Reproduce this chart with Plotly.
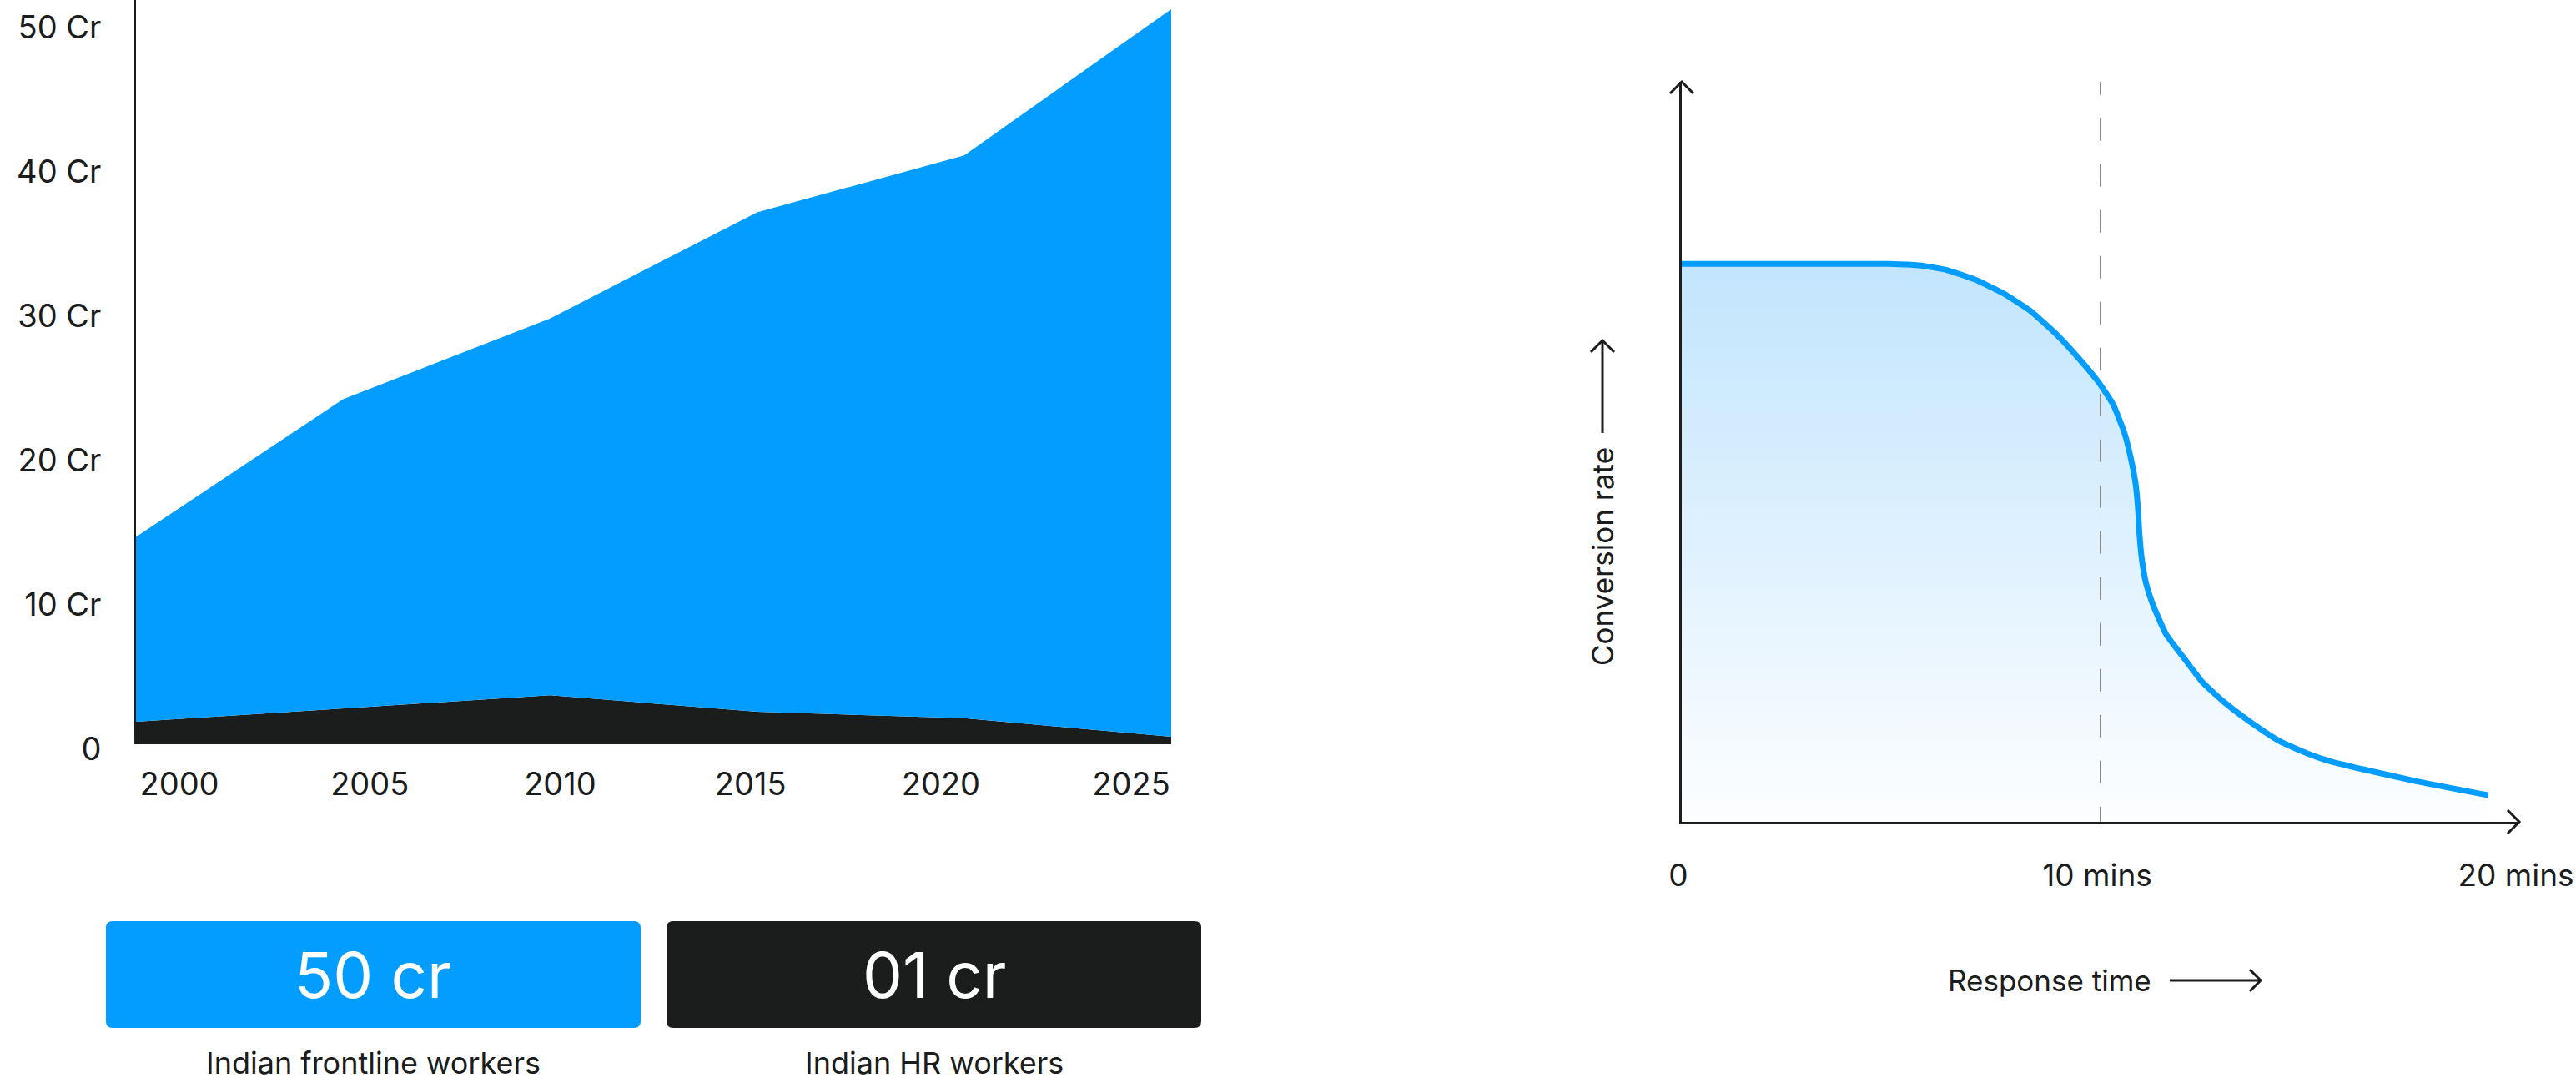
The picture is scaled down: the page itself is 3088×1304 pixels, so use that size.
import plotly.graph_objects as go

W, H = 3088, 1304
BLUE = "#039CFF"
BLACK = "#1B1C1C"
FONT = "Inter"

# ---------------- Left chart data ----------------
years = [2000, 2005, 2010, 2015, 2020, 2025]
frontline_cr = [12.8, 21.4, 26.1, 34.6, 39.0, 50.4]
hr_cr = [1.56, 2.5, 3.4, 2.25, 1.8, 0.52]
y_tick_vals = [0, 10, 20, 30, 40, 50]
y_tick_text = ["0", "10 Cr", "20 Cr", "30 Cr", "40 Cr", "50 Cr"]

summary_values = ["50 cr", "01 cr"]
summary_labels = ["Indian frontline workers", "Indian HR workers"]
summary_colors = [BLUE, BLACK]

# ---------------- Right chart data ----------------
response_min = [0, 4.92, 5.66, 6.31, 6.99, 7.65, 8.31, 8.98, 9.50, 9.94, 10.30, 10.58,
                10.74, 10.84, 10.90, 10.92, 10.98, 11.08, 11.24, 11.57, 11.97, 12.43,
                12.97, 13.63, 14.28, 14.96, 15.48, 16.27, 17.61, 19.26]
conversion = [75.4, 75.4, 75.2, 74.6, 73.3, 71.5, 69.1, 65.7, 62.5, 59.5, 56.4, 52.4,
              48.7, 45.6, 41.9, 39.7, 35.8, 32.4, 29.5, 25.3, 22.3, 18.9,
              16.1, 13.3, 10.9, 9.2, 8.2, 7.1, 5.4, 3.6]
x2_tick_vals = [0, 10, 20]
x2_tick_text = ["0", "10 mins", "20 mins"]
threshold_min = 10


def px(x):
    return x / W


def py(y):
    return 1 - y / H


fig = go.Figure()

# stacked areas (left)
fig.add_trace(go.Scatter(
    x=years, y=hr_cr, stackgroup="workers", mode="lines",
    line=dict(width=0, color=BLACK), fillcolor=BLACK,
    name="Indian HR workers", xaxis="x", yaxis="y", hoverinfo="skip"))
fig.add_trace(go.Scatter(
    x=years, y=frontline_cr, stackgroup="workers", mode="lines",
    line=dict(width=0, color=BLUE), fillcolor=BLUE,
    name="Indian frontline workers", xaxis="x", yaxis="y", hoverinfo="skip"))
# carrier for the evenly spaced year labels
fig.add_trace(go.Scatter(
    x=list(range(len(years))), y=[None] * len(years), xaxis="x3", yaxis="y",
    mode="markers", showlegend=False, hoverinfo="skip"))

# response curve (right)
fig.add_trace(go.Scatter(
    x=response_min, y=conversion, xaxis="x2", yaxis="y2", mode="lines",
    line=dict(color=BLUE, width=7, shape="spline", smoothing=0.5),
    fill="tozeroy",
    fillgradient=dict(type="vertical", start=0, stop=max(conversion),
                      colorscale=[[0, "#fdfeff"], [0.55, "#dcf0fe"], [1, "#c2e5fd"]]),
    hoverinfo="skip"))

axis_font = dict(family=FONT, size=38, color=BLACK)

layout = dict(
    width=W, height=H, margin=dict(l=0, r=0, t=0, b=0, autoexpand=False),
    paper_bgcolor="white", plot_bgcolor="rgba(0,0,0,0)", showlegend=False,
    xaxis=dict(domain=[px(163), px(1404)], range=[years[0], years[-1]], anchor="y",
               automargin=False, showline=False, showgrid=False, zeroline=False,
               showticklabels=False, ticks=""),
    yaxis=dict(domain=[py(892), 1], range=[0, 892 / 17.3], anchor="x", automargin=False,
               showline=True, linecolor=BLACK, linewidth=2, showgrid=False, zeroline=False,
               tickvals=y_tick_vals, ticktext=y_tick_text, ticks="", tickfont=axis_font,
               ticklabelstandoff=32, ticklabelshift=6, ticklabeloverflow="allow"),
    xaxis3=dict(overlaying="x", anchor="y", side="bottom", range=[-0.228, 5.21],
                automargin=False, tickvals=list(range(len(years))),
                ticktext=[str(v) for v in years],
                showline=False, showgrid=False, zeroline=False, ticks="",
                tickfont=axis_font, ticklabelstandoff=22, ticklabeloverflow="allow"),
    xaxis2=dict(domain=[px(2016), px(3020)], range=[0, 20], anchor="y2", automargin=False,
                showline=True, linecolor=BLACK, linewidth=3, showgrid=False, zeroline=False,
                tickvals=x2_tick_vals, ticktext=x2_tick_text, ticks="",
                tickfont=dict(family=FONT, size=37, color=BLACK),
                ticklabelstandoff=30, ticklabelshift=-4, ticklabeloverflow="allow"),
    yaxis2=dict(domain=[py(985), py(98)], range=[0, 100], anchor="x2", automargin=False,
                showline=True, linecolor=BLACK, linewidth=3, showgrid=False, zeroline=False,
                showticklabels=False, ticks=""),
)
fig.update_layout(**layout)

shapes = []
annotations = []


def path(points):
    return "M " + " L ".join(f"{px(x):.6f},{py(y):.6f}" for x, y in points)


def rounded_rect(x0, y0, x1, y1, r):
    p = [
        f"M {px(x0 + r):.6f},{py(y0):.6f}",
        f"L {px(x1 - r):.6f},{py(y0):.6f}",
        f"Q {px(x1):.6f},{py(y0):.6f} {px(x1):.6f},{py(y0 + r):.6f}",
        f"L {px(x1):.6f},{py(y1 - r):.6f}",
        f"Q {px(x1):.6f},{py(y1):.6f} {px(x1 - r):.6f},{py(y1):.6f}",
        f"L {px(x0 + r):.6f},{py(y1):.6f}",
        f"Q {px(x0):.6f},{py(y1):.6f} {px(x0):.6f},{py(y1 - r):.6f}",
        f"L {px(x0):.6f},{py(y0 + r):.6f}",
        f"Q {px(x0):.6f},{py(y0):.6f} {px(x0 + r):.6f},{py(y0):.6f}",
        "Z",
    ]
    return " ".join(p)


arrow_line = dict(color=BLACK, width=3)

# axis arrow heads (right chart)
shapes.append(dict(type="path", xref="paper", yref="paper",
                   path=path([(2002, 112), (2016, 98), (2030, 112)]), line=arrow_line))
shapes.append(dict(type="path", xref="paper", yref="paper",
                   path=path([(3006, 971), (3020, 985), (3006, 999)]), line=arrow_line))

# dashed threshold line at 10 mins
shapes.append(dict(type="line", xref="x2", yref="y2", x0=threshold_min, x1=threshold_min,
                   y0=101.27, y1=0, layer="above",
                   line=dict(color="#8a8a8a", width=2, dash="27px,28px")))

# "Conversion rate ->" (vertical)
annotations.append(dict(text="Conversion rate", xref="paper", yref="paper",
                        x=px(1921), y=py(667), textangle=-90, showarrow=False,
                        xanchor="center", yanchor="middle",
                        font=dict(family=FONT, size=35, color=BLACK)))
shapes.append(dict(type="line", xref="paper", yref="paper",
                   x0=px(1921), x1=px(1921), y0=py(519), y1=py(409), line=arrow_line))
shapes.append(dict(type="path", xref="paper", yref="paper",
                   path=path([(1907, 422), (1921, 408), (1935, 422)]), line=arrow_line))

# "Response time ->"
annotations.append(dict(text="Response time", xref="paper", yref="paper",
                        x=px(2457), y=py(1175), showarrow=False,
                        xanchor="center", yanchor="middle",
                        font=dict(family=FONT, size=35, color=BLACK)))
shapes.append(dict(type="line", xref="paper", yref="paper",
                   x0=px(2601), x1=px(2710), y0=py(1175), y1=py(1175), line=arrow_line))
shapes.append(dict(type="path", xref="paper", yref="paper",
                   path=path([(2697, 1162), (2710, 1175), (2697, 1188)]), line=arrow_line))

# summary boxes
box_left = [127, 799]
box_w = 641
for i, (val, lab, col) in enumerate(zip(summary_values, summary_labels, summary_colors)):
    x0 = box_left[i]
    x1 = x0 + box_w
    cx = (x0 + x1) / 2
    shapes.append(dict(type="path", xref="paper", yref="paper",
                       path=rounded_rect(x0, 1104, x1, 1232, 8),
                       fillcolor=col, line=dict(width=0), layer="above"))
    annotations.append(dict(text=val, xref="paper", yref="paper", x=px(cx), y=py(1168),
                            showarrow=False, xanchor="center", yanchor="middle",
                            font=dict(family=FONT, size=76, color="white")))
    annotations.append(dict(text=lab, xref="paper", yref="paper", x=px(cx), y=py(1274),
                            showarrow=False, xanchor="center", yanchor="middle",
                            font=dict(family=FONT, size=36, color=BLACK)))

fig.update_layout(shapes=shapes, annotations=annotations)

fig.write_html("out.html", config=dict(displayModeBar=False),
               post_script="document.body.style.margin='0';document.body.style.overflow='hidden';")
